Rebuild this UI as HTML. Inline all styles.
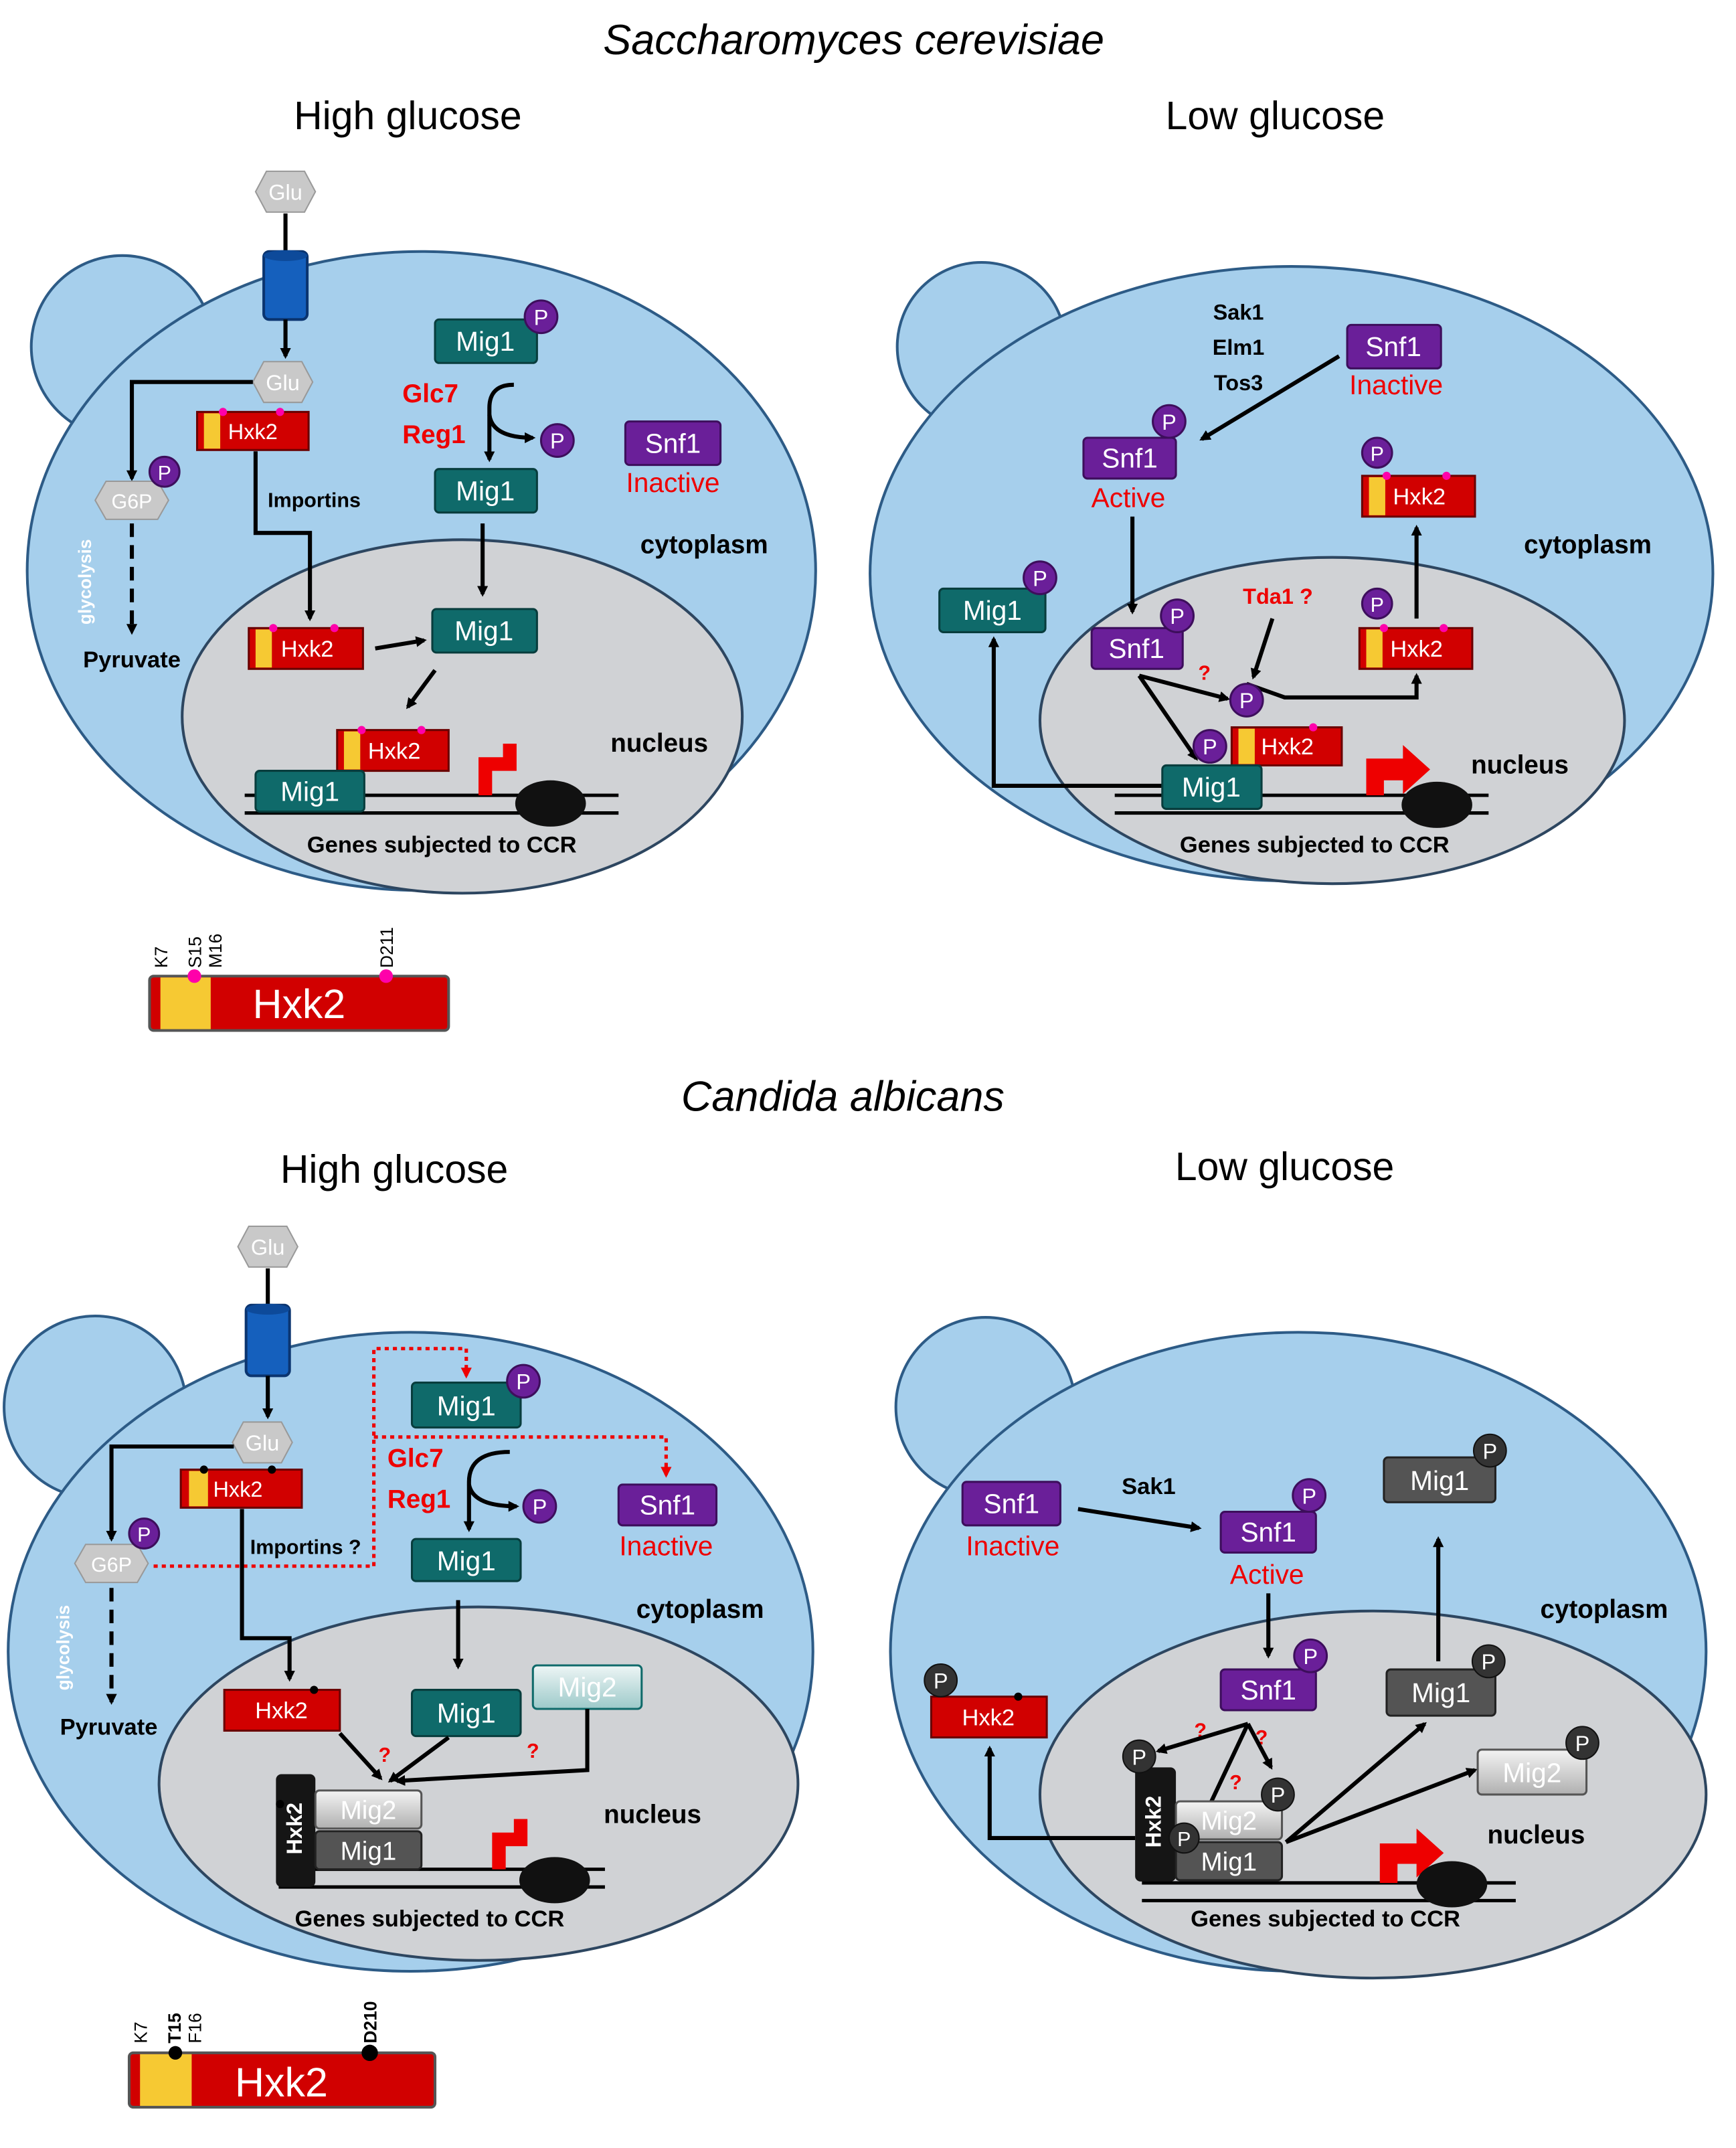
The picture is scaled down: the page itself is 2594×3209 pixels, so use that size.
<!DOCTYPE html>
<html><head><meta charset="utf-8"><style>
html,body{margin:0;padding:0;background:#fff}
svg{display:block}
text{font-family:"Liberation Sans",sans-serif}
.b{font-weight:bold}
</style></head><body>
<svg width="2594" height="3209" viewBox="0 0 1277 1580" preserveAspectRatio="none" xmlns="http://www.w3.org/2000/svg">
<defs>
<marker id="a" markerWidth="8" markerHeight="8" refX="6" refY="4" orient="auto" markerUnits="userSpaceOnUse" viewBox="0 0 8 8"><path d="M0,0 L8,4 L0,8 z" fill="#000"/></marker>
<marker id="ar" markerWidth="8" markerHeight="8" refX="6" refY="4" orient="auto" markerUnits="userSpaceOnUse" viewBox="0 0 8 8"><path d="M0,0 L8,4 L0,8 z" fill="#e00"/></marker>
<marker id="ab" markerWidth="12" markerHeight="12" refX="8" refY="6" orient="auto" markerUnits="userSpaceOnUse" viewBox="0 0 12 12"><path d="M0,0 L12,6 L0,12 z" fill="#000"/></marker>
<linearGradient id="m2" x1="0" y1="0" x2="0" y2="1"><stop offset="0" stop-color="#eef6f6"/><stop offset="1" stop-color="#9cc9c9"/></linearGradient>
<linearGradient id="m2g" x1="0" y1="0" x2="0" y2="1"><stop offset="0" stop-color="#f4f4f4"/><stop offset="1" stop-color="#b0b0b0"/></linearGradient>
</defs>
<style>
.cell{fill:#a6cfec;stroke:#2d5b86;stroke-width:2}
.nuc{fill:#d0d2d5;stroke:#2d4660;stroke-width:2}
.mig{fill:#0f6a6a;stroke:#083d3d;stroke-width:1.5}
.snf{fill:#6a1f99;stroke:#3d0e5c;stroke-width:1.5}
.red{fill:#d10000;stroke:#6a0000;stroke-width:1.5}
.gry{fill:#545454;stroke:#222;stroke-width:1.5}
.w{fill:#fff}
.ln{stroke:#000;stroke-width:3;fill:none}
.rl{stroke:#e00;stroke-width:2.5;fill:none;stroke-dasharray:3,3}
.hex{fill:#c9c9c9;stroke:#999;stroke-width:1}
</style>

<!-- titles -->
<text x="628" y="40" font-size="31" font-style="italic" text-anchor="middle">Saccharomyces cerevisiae</text>
<text x="300" y="95" font-size="29" text-anchor="middle">High glucose</text>
<text x="938" y="95" font-size="29" text-anchor="middle">Low glucose</text>
<text x="620" y="817" font-size="31" font-style="italic" text-anchor="middle">Candida albicans</text>
<text x="290" y="870" font-size="29" text-anchor="middle">High glucose</text>
<text x="945" y="868" font-size="29" text-anchor="middle">Low glucose</text>

<!-- ========== CELL 1 ========== -->
<circle cx="90" cy="255" r="67" class="cell"/>
<ellipse cx="310" cy="420" rx="290" ry="235" class="cell"/>
<ellipse cx="340" cy="527" rx="206" ry="130" class="nuc"/>
<polygon points="188,141 196,126 224,126 232,141 224,156 196,156" class="hex"/><text x="210" y="147" font-size="16" fill="#fff" text-anchor="middle">Glu</text>
<line x1="210" y1="157" x2="210" y2="185" class="ln"/>
<rect x="194" y="185" width="32" height="50" rx="4" fill="#1560bd" stroke="#0b3570" stroke-width="2"/><ellipse cx="210" cy="188" rx="16" ry="4" fill="#0d4a9a"/>
<line x1="210" y1="235" x2="210" y2="262" class="ln" marker-end="url(#a)"/>
<polygon points="186,281 194,266 222,266 230,281 222,296 194,296" class="hex"/><text x="208" y="287" font-size="16" fill="#fff" text-anchor="middle">Glu</text>
<polyline points="186,281 97,281 97,352" class="ln" marker-end="url(#a)"/>
<rect x="145" y="303" width="82" height="28" class="red"/><rect x="150" y="304" width="12" height="26" fill="#f6c933"/><text x="186" y="323" font-size="16" class="w" text-anchor="middle">Hxk2</text><circle cx="164" cy="303" r="3" fill="#f0a"/><circle cx="206" cy="303" r="3" fill="#f0a"/>
<polygon points="70,368 78,354 116,354 124,368 116,382 78,382" class="hex"/><text x="97" y="374" font-size="15" fill="#fff" text-anchor="middle">G6P</text>
<circle cx="121" cy="347" r="11" class="snf"/><text x="121" y="353" font-size="15" class="w" text-anchor="middle">P</text>
<text x="67" y="428" font-size="13" class="w b" text-anchor="middle" transform="rotate(-90 67 428)">glycolysis</text>
<line x1="97" y1="385" x2="97" y2="465" class="ln" stroke-dasharray="10,6" marker-end="url(#a)"/>
<text x="97" y="491" font-size="17" class="b" text-anchor="middle">Pyruvate</text>
<polyline points="188,332 188,392 228,392 228,455" class="ln" marker-end="url(#a)"/>
<text x="197" y="373" font-size="15" class="b">Importins</text>
<rect x="320" y="235" width="75" height="32" rx="3" class="mig"/><text x="357" y="258" font-size="20" class="w" text-anchor="middle">Mig1</text>
<circle cx="398" cy="233" r="12" class="snf"/><text x="398" y="239" font-size="16" class="w" text-anchor="middle">P</text>
<text x="296" y="296" font-size="19" fill="#e00" class="b">Glc7</text>
<text x="296" y="326" font-size="19" fill="#e00" class="b">Reg1</text>
<path d="M378,283 Q360,283 360,300 L360,338" class="ln" marker-end="url(#a)"/>
<path d="M360,305 Q362,322 392,322" class="ln" stroke="#0a2050" marker-end="url(#a)"/>
<circle cx="410" cy="324" r="12" class="snf"/><text x="410" y="330" font-size="16" class="w" text-anchor="middle">P</text>
<rect x="320" y="345" width="75" height="32" rx="3" class="mig"/><text x="357" y="368" font-size="20" class="w" text-anchor="middle">Mig1</text>
<rect x="460" y="310" width="70" height="32" rx="3" class="snf"/><text x="495" y="333" font-size="20" class="w" text-anchor="middle">Snf1</text>
<text x="495" y="362" font-size="20" fill="#e00" text-anchor="middle">Inactive</text>
<text x="518" y="407" font-size="19" class="b" text-anchor="middle">cytoplasm</text>
<line x1="355" y1="385" x2="355" y2="437" class="ln" marker-end="url(#a)"/>
<rect x="183" y="462" width="84" height="30" class="red"/><rect x="188" y="463" width="12" height="28" fill="#f6c933"/><text x="226" y="483" font-size="17" class="w" text-anchor="middle">Hxk2</text><circle cx="201" cy="462" r="3" fill="#f0a"/><circle cx="246" cy="462" r="3" fill="#f0a"/>
<line x1="276" y1="477" x2="312" y2="471" class="ln" marker-end="url(#a)"/>
<rect x="318" y="448" width="77" height="32" rx="3" class="mig"/><text x="356" y="471" font-size="20" class="w" text-anchor="middle">Mig1</text>
<line x1="320" y1="493" x2="300" y2="520" class="ln" marker-end="url(#a)"/>
<line x1="180" y1="585" x2="455" y2="585" stroke="#000" stroke-width="2.5"/><line x1="180" y1="598" x2="455" y2="598" stroke="#000" stroke-width="2.5"/>
<rect x="248" y="537" width="82" height="30" class="red"/><rect x="253" y="538" width="12" height="28" fill="#f6c933"/><text x="290" y="558" font-size="17" class="w" text-anchor="middle">Hxk2</text><circle cx="266" cy="537" r="3" fill="#f0a"/><circle cx="310" cy="537" r="3" fill="#f0a"/>
<rect x="188" y="567" width="80" height="30" rx="3" class="mig"/><text x="228" y="589" font-size="20" class="w" text-anchor="middle">Mig1</text>
<path d="M352,585 L352,557 L370,557 L370,547 L380,547 L380,567 L362,567 L362,585 z" fill="#e00"/>
<ellipse cx="405" cy="591" rx="26" ry="17" fill="#111"/>
<text x="485" y="553" font-size="19" class="b" text-anchor="middle">nucleus</text>
<text x="325" y="627" font-size="17" class="b" text-anchor="middle">Genes subjected to CCR</text>

<!-- Hxk2 bar 1 -->
<rect x="110" y="718" width="220" height="40" rx="3" fill="#d10000" stroke="#555" stroke-width="2"/>
<rect x="118" y="719" width="37" height="38" fill="#f6c933"/>
<circle cx="143" cy="718" r="5" fill="#f0a"/><circle cx="284" cy="718" r="5" fill="#f0a"/>
<text x="220" y="749" font-size="30" class="w" text-anchor="middle">Hxk2</text>
<text x="123" y="712" font-size="13" transform="rotate(-90 123 712)">K7</text>
<text x="148" y="712" font-size="13" transform="rotate(-90 148 712)">S15</text>
<text x="163" y="712" font-size="13" transform="rotate(-90 163 712)">M16</text>
<text x="289" y="712" font-size="13" transform="rotate(-90 289 712)">D211</text>

<!-- ========== CELL 2 ========== -->
<circle cx="722" cy="255" r="62" class="cell"/>
<ellipse cx="950" cy="422" rx="310" ry="226" class="cell"/>
<ellipse cx="980" cy="530" rx="215" ry="120" class="nuc"/>
<text x="911" y="235" font-size="16" class="b" text-anchor="middle">Sak1</text>
<text x="911" y="261" font-size="16" class="b" text-anchor="middle">Elm1</text>
<text x="911" y="287" font-size="16" class="b" text-anchor="middle">Tos3</text>
<rect x="991" y="239" width="69" height="32" rx="3" class="snf"/><text x="1025" y="262" font-size="20" class="w" text-anchor="middle">Snf1</text>
<text x="1027" y="290" font-size="20" fill="#e00" text-anchor="middle">Inactive</text>
<line x1="985" y1="262" x2="884" y2="323" class="ln" marker-end="url(#a)"/>
<rect x="797" y="322" width="68" height="30" rx="3" class="snf"/><text x="831" y="344" font-size="20" class="w" text-anchor="middle">Snf1</text>
<circle cx="860" cy="310" r="12" class="snf"/><text x="860" y="316" font-size="16" class="w" text-anchor="middle">P</text>
<text x="830" y="373" font-size="20" fill="#e00" text-anchor="middle">Active</text>
<line x1="833" y1="380" x2="833" y2="450" class="ln" marker-end="url(#a)"/>
<rect x="803" y="462" width="67" height="30" rx="3" class="snf"/><text x="836" y="484" font-size="20" class="w" text-anchor="middle">Snf1</text>
<circle cx="866" cy="453" r="12" class="snf"/><text x="866" y="459" font-size="16" class="w" text-anchor="middle">P</text>
<rect x="691" y="433" width="78" height="32" rx="3" class="mig"/><text x="730" y="456" font-size="20" class="w" text-anchor="middle">Mig1</text>
<circle cx="765" cy="425" r="12" class="snf"/><text x="765" y="431" font-size="16" class="w" text-anchor="middle">P</text>
<polyline points="858,578 731,578 731,470" class="ln" marker-end="url(#a)"/>
<text x="940" y="444" font-size="16" fill="#e00" class="b" text-anchor="middle">Tda1 ?</text>
<line x1="936" y1="455" x2="922" y2="498" class="ln" marker-end="url(#a)"/>
<text x="886" y="500" font-size="15" fill="#e00" class="b" text-anchor="middle">?</text>
<line x1="838" y1="497" x2="903" y2="514" class="ln" marker-end="url(#a)"/>
<line x1="838" y1="497" x2="880" y2="558" class="ln" marker-end="url(#a)"/>
<polyline points="917,503 945,513 1042,513 1042,497" class="ln" marker-end="url(#a)"/>
<line x1="820" y1="585" x2="1095" y2="585" stroke="#000" stroke-width="2.5"/><line x1="820" y1="598" x2="1095" y2="598" stroke="#000" stroke-width="2.5"/>
<rect x="906" y="535" width="81" height="28" class="red"/><rect x="911" y="536" width="12" height="26" fill="#f6c933"/><text x="947" y="555" font-size="17" class="w" text-anchor="middle">Hxk2</text><circle cx="966" cy="535" r="3" fill="#f0a"/>
<circle cx="917" cy="515" r="12" class="snf"/><text x="917" y="521" font-size="16" class="w" text-anchor="middle">P</text>
<circle cx="890" cy="549" r="12" class="snf"/><text x="890" y="555" font-size="16" class="w" text-anchor="middle">P</text>
<rect x="855" y="563" width="73" height="32" rx="3" class="mig"/><text x="891" y="586" font-size="20" class="w" text-anchor="middle">Mig1</text>
<rect x="1000" y="462" width="83" height="30" class="red"/><rect x="1005" y="463" width="12" height="28" fill="#f6c933"/><text x="1042" y="483" font-size="17" class="w" text-anchor="middle">Hxk2</text><circle cx="1018" cy="462" r="3" fill="#f0a"/><circle cx="1062" cy="462" r="3" fill="#f0a"/>
<circle cx="1013" cy="444" r="11" class="snf"/><text x="1013" y="450" font-size="15" class="w" text-anchor="middle">P</text>
<line x1="1042" y1="455" x2="1042" y2="388" class="ln" marker-end="url(#a)"/>
<rect x="1002" y="350" width="83" height="30" class="red"/><rect x="1007" y="351" width="12" height="28" fill="#f6c933"/><text x="1044" y="371" font-size="17" class="w" text-anchor="middle">Hxk2</text><circle cx="1020" cy="350" r="3" fill="#f0a"/><circle cx="1064" cy="350" r="3" fill="#f0a"/>
<circle cx="1013" cy="333" r="11" class="snf"/><text x="1013" y="339" font-size="15" class="w" text-anchor="middle">P</text>
<path d="M1005,585 L1005,558 L1032,558 L1032,548 L1052,566 L1032,584 L1032,574 L1018,574 L1018,585 z" fill="#e00"/>
<ellipse cx="1057" cy="592" rx="26" ry="17" fill="#111"/>
<text x="1168" y="407" font-size="19" class="b" text-anchor="middle">cytoplasm</text>
<text x="1118" y="569" font-size="19" class="b" text-anchor="middle">nucleus</text>
<text x="967" y="627" font-size="17" class="b" text-anchor="middle">Genes subjected to CCR</text>

<!-- ========== CELL 3 ========== -->
<circle cx="70" cy="1035" r="67" class="cell"/>
<ellipse cx="302" cy="1215" rx="296" ry="235" class="cell"/>
<ellipse cx="352" cy="1312" rx="235" ry="130" class="nuc"/>
<polygon points="175,917 183,902 211,902 219,917 211,932 183,932" class="hex"/><text x="197" y="923" font-size="16" fill="#fff" text-anchor="middle">Glu</text>
<line x1="197" y1="933" x2="197" y2="960" class="ln"/>
<rect x="181" y="960" width="32" height="52" rx="4" fill="#1560bd" stroke="#0b3570" stroke-width="2"/><ellipse cx="197" cy="963" rx="16" ry="4" fill="#0d4a9a"/>
<line x1="197" y1="1012" x2="197" y2="1042" class="ln" marker-end="url(#a)"/>
<polygon points="171,1061 179,1046 207,1046 215,1061 207,1076 179,1076" class="hex"/><text x="193" y="1067" font-size="16" fill="#fff" text-anchor="middle">Glu</text>
<polyline points="172,1064 82,1064 82,1132" class="ln" marker-end="url(#a)"/>
<rect x="133" y="1081" width="89" height="28" class="red"/><rect x="139" y="1082" width="14" height="26" fill="#f6c933"/><text x="175" y="1101" font-size="16" class="w" text-anchor="middle">Hxk2</text><circle cx="150" cy="1081" r="3" fill="#000"/><circle cx="200" cy="1081" r="3" fill="#000"/>
<polygon points="55,1150 63,1136 101,1136 109,1150 101,1164 63,1164" class="hex"/><text x="82" y="1156" font-size="15" fill="#fff" text-anchor="middle">G6P</text>
<circle cx="106" cy="1128" r="11" class="snf"/><text x="106" y="1134" font-size="15" class="w" text-anchor="middle">P</text>
<text x="51" y="1212" font-size="13" class="w b" text-anchor="middle" transform="rotate(-90 51 1212)">glycolysis</text>
<line x1="82" y1="1168" x2="82" y2="1252" class="ln" stroke-dasharray="10,6" marker-end="url(#a)"/>
<text x="80" y="1276" font-size="17" class="b" text-anchor="middle">Pyruvate</text>
<polyline points="113,1152 275,1152 275,992 343,992 343,1012" class="rl" marker-end="url(#ar)"/>
<polyline points="275,1057 490,1057 490,1085" class="rl" marker-end="url(#ar)"/>
<text x="184" y="1143" font-size="15" class="b">Importins ?</text>
<polyline points="178,1110 178,1205 213,1205 213,1235" class="ln" marker-end="url(#a)"/>
<rect x="303" y="1017" width="80" height="33" rx="3" class="mig"/><text x="343" y="1041" font-size="20" class="w" text-anchor="middle">Mig1</text>
<circle cx="385" cy="1016" r="12" class="snf"/><text x="385" y="1022" font-size="16" class="w" text-anchor="middle">P</text>
<text x="285" y="1079" font-size="19" fill="#e00" class="b">Glc7</text>
<text x="285" y="1109" font-size="19" fill="#e00" class="b">Reg1</text>
<path d="M375,1068 Q345,1068 345,1090 L345,1125" class="ln" marker-end="url(#a)"/>
<path d="M345,1092 Q348,1108 380,1108" class="ln" stroke="#0a2050" marker-end="url(#a)"/>
<circle cx="397" cy="1108" r="12" class="snf"/><text x="397" y="1114" font-size="16" class="w" text-anchor="middle">P</text>
<rect x="303" y="1132" width="80" height="31" rx="3" class="mig"/><text x="343" y="1155" font-size="20" class="w" text-anchor="middle">Mig1</text>
<rect x="455" y="1092" width="72" height="30" rx="3" class="snf"/><text x="491" y="1114" font-size="20" class="w" text-anchor="middle">Snf1</text>
<text x="490" y="1144" font-size="20" fill="#e00" text-anchor="middle">Inactive</text>
<text x="515" y="1190" font-size="19" class="b" text-anchor="middle">cytoplasm</text>
<line x1="337" y1="1177" x2="337" y2="1226" class="ln" marker-end="url(#a)"/>
<rect x="165" y="1243" width="85" height="30" class="red"/><text x="207" y="1264" font-size="17" class="w" text-anchor="middle">Hxk2</text><circle cx="231" cy="1243" r="3" fill="#000"/>
<rect x="303" y="1243" width="80" height="34" rx="3" class="mig"/><text x="343" y="1267" font-size="20" class="w" text-anchor="middle">Mig1</text>
<rect x="392" y="1225" width="80" height="32" rx="3" fill="url(#m2)" stroke="#0f6a6a" stroke-width="1.5"/><text x="432" y="1248" font-size="20" class="w" text-anchor="middle">Mig2</text>
<line x1="250" y1="1275" x2="280" y2="1308" class="ln" marker-end="url(#a)"/>
<line x1="330" y1="1278" x2="287" y2="1310" class="ln" marker-end="url(#a)"/>
<polyline points="432,1257 432,1302 292,1310" class="ln" marker-end="url(#a)"/>
<text x="283" y="1296" font-size="15" fill="#e00" class="b" text-anchor="middle">?</text>
<text x="392" y="1293" font-size="15" fill="#e00" class="b" text-anchor="middle">?</text>
<line x1="205" y1="1375" x2="445" y2="1375" stroke="#000" stroke-width="2.5"/><line x1="205" y1="1388" x2="445" y2="1388" stroke="#000" stroke-width="2.5"/>
<rect x="203" y="1305" width="29" height="83" rx="4" fill="#151515"/><text x="224" y="1347" font-size="16" class="w b" text-anchor="middle" transform="rotate(-90 222 1347)">Hxk2</text><circle cx="206" cy="1327" r="3" fill="#000"/>
<rect x="232" y="1317" width="78" height="28" rx="3" fill="url(#m2g)" stroke="#555" stroke-width="1.5"/><text x="271" y="1338" font-size="19" class="w" text-anchor="middle">Mig2</text>
<rect x="232" y="1347" width="78" height="28" rx="3" class="gry"/><text x="271" y="1368" font-size="19" class="w" text-anchor="middle">Mig1</text>
<path d="M362,1375 L362,1348 L378,1348 L378,1338 L388,1338 L388,1358 L372,1358 L372,1375 z" fill="#e00"/>
<ellipse cx="408" cy="1383" rx="26" ry="17" fill="#111"/>
<text x="480" y="1341" font-size="19" class="b" text-anchor="middle">nucleus</text>
<text x="316" y="1417" font-size="17" class="b" text-anchor="middle">Genes subjected to CCR</text>

<!-- Hxk2 bar 2 -->
<rect x="95" y="1510" width="225" height="40" rx="3" fill="#d10000" stroke="#555" stroke-width="2"/>
<rect x="103" y="1511" width="38" height="38" fill="#f6c933"/>
<circle cx="129" cy="1510" r="5" fill="#000"/><circle cx="272" cy="1510" r="6" fill="#000"/>
<text x="207" y="1542" font-size="30" class="w" text-anchor="middle">Hxk2</text>
<text x="108" y="1503" font-size="13" transform="rotate(-90 108 1503)">K7</text>
<text x="133" y="1503" font-size="13" class="b" transform="rotate(-90 133 1503)">T15</text>
<text x="148" y="1503" font-size="13" transform="rotate(-90 148 1503)">F16</text>
<text x="277" y="1503" font-size="13" class="b" transform="rotate(-90 277 1503)">D210</text>

<!-- ========== CELL 4 ========== -->
<circle cx="725" cy="1035" r="66" class="cell"/>
<ellipse cx="955" cy="1215" rx="300" ry="235" class="cell"/>
<ellipse cx="1010" cy="1320" rx="245" ry="135" class="nuc"/>
<rect x="708" y="1090" width="72" height="32" rx="3" class="snf"/><text x="744" y="1113" font-size="20" class="w" text-anchor="middle">Snf1</text>
<text x="745" y="1144" font-size="20" fill="#e00" text-anchor="middle">Inactive</text>
<text x="845" y="1099" font-size="17" class="b" text-anchor="middle">Sak1</text>
<line x1="793" y1="1110" x2="882" y2="1124" class="ln" marker-end="url(#a)"/>
<rect x="898" y="1112" width="70" height="30" rx="3" class="snf"/><text x="933" y="1134" font-size="20" class="w" text-anchor="middle">Snf1</text>
<circle cx="963" cy="1100" r="12" class="snf"/><text x="963" y="1106" font-size="16" class="w" text-anchor="middle">P</text>
<text x="932" y="1165" font-size="20" fill="#e00" text-anchor="middle">Active</text>
<line x1="933" y1="1172" x2="933" y2="1218" class="ln" marker-end="url(#a)"/>
<rect x="898" y="1228" width="70" height="30" rx="3" class="snf"/><text x="933" y="1250" font-size="20" class="w" text-anchor="middle">Snf1</text>
<circle cx="964" cy="1218" r="12" class="snf"/><text x="964" y="1224" font-size="16" class="w" text-anchor="middle">P</text>
<text x="883" y="1278" font-size="15" fill="#e00" class="b" text-anchor="middle">?</text>
<text x="928" y="1283" font-size="15" fill="#e00" class="b" text-anchor="middle">?</text>
<text x="909" y="1316" font-size="15" fill="#e00" class="b" text-anchor="middle">?</text>
<line x1="918" y1="1268" x2="852" y2="1288" class="ln" marker-end="url(#a)"/>
<line x1="918" y1="1268" x2="935" y2="1300" class="ln" marker-end="url(#a)"/>
<line x1="918" y1="1268" x2="885" y2="1338" class="ln" marker-end="url(#a)"/>
<line x1="840" y1="1385" x2="1115" y2="1385" stroke="#000" stroke-width="2.5"/><line x1="840" y1="1398" x2="1115" y2="1398" stroke="#000" stroke-width="2.5"/>
<rect x="835" y="1300" width="30" height="84" rx="4" fill="#151515"/><text x="856" y="1342" font-size="16" class="w b" text-anchor="middle" transform="rotate(-90 854 1342)">Hxk2</text>
<circle cx="838" cy="1292" r="12" fill="#333" stroke="#111"/><text x="838" y="1298" font-size="16" class="w" text-anchor="middle">P</text>
<rect x="865" y="1325" width="78" height="28" rx="3" fill="url(#m2g)" stroke="#555" stroke-width="1.5"/><text x="904" y="1346" font-size="19" class="w" text-anchor="middle">Mig2</text>
<circle cx="940" cy="1320" r="12" fill="#333" stroke="#111"/><text x="940" y="1326" font-size="16" class="w" text-anchor="middle">P</text>
<rect x="865" y="1355" width="78" height="28" rx="3" class="gry"/><text x="904" y="1376" font-size="19" class="w" text-anchor="middle">Mig1</text>
<circle cx="871" cy="1352" r="11" fill="#333" stroke="#111"/><text x="871" y="1358" font-size="15" class="w" text-anchor="middle">P</text>
<line x1="946" y1="1355" x2="1048" y2="1268" class="ln" marker-end="url(#a)"/>
<line x1="946" y1="1355" x2="1085" y2="1302" class="ln" marker-end="url(#a)"/>
<rect x="1020" y="1228" width="80" height="34" rx="3" class="gry"/><text x="1060" y="1252" font-size="20" class="w" text-anchor="middle">Mig1</text>
<circle cx="1095" cy="1222" r="12" fill="#333" stroke="#111"/><text x="1095" y="1228" font-size="16" class="w" text-anchor="middle">P</text>
<line x1="1058" y1="1222" x2="1058" y2="1132" class="ln" marker-end="url(#a)"/>
<rect x="1018" y="1072" width="82" height="33" rx="3" class="gry"/><text x="1059" y="1096" font-size="20" class="w" text-anchor="middle">Mig1</text>
<circle cx="1096" cy="1067" r="12" fill="#333" stroke="#111"/><text x="1096" y="1073" font-size="16" class="w" text-anchor="middle">P</text>
<rect x="1087" y="1287" width="80" height="33" rx="3" fill="url(#m2g)" stroke="#555" stroke-width="1.5"/><text x="1127" y="1311" font-size="20" class="w" text-anchor="middle">Mig2</text>
<circle cx="1164" cy="1282" r="12" fill="#333" stroke="#111"/><text x="1164" y="1288" font-size="16" class="w" text-anchor="middle">P</text>
<rect x="685" y="1248" width="85" height="30" class="red"/><text x="727" y="1269" font-size="17" class="w" text-anchor="middle">Hxk2</text><circle cx="749" cy="1248" r="3" fill="#000"/>
<circle cx="692" cy="1236" r="12" fill="#333" stroke="#111"/><text x="692" y="1242" font-size="16" class="w" text-anchor="middle">P</text>
<polyline points="835,1352 728,1352 728,1286" class="ln" marker-end="url(#a)"/>
<path d="M1015,1385 L1015,1356 L1042,1356 L1042,1345 L1062,1363 L1042,1381 L1042,1371 L1028,1371 L1028,1385 z" fill="#e00"/>
<ellipse cx="1068" cy="1386" rx="26" ry="17" fill="#111"/>
<text x="1180" y="1190" font-size="19" class="b" text-anchor="middle">cytoplasm</text>
<text x="1130" y="1356" font-size="19" class="b" text-anchor="middle">nucleus</text>
<text x="975" y="1417" font-size="17" class="b" text-anchor="middle">Genes subjected to CCR</text>
</svg>
</body></html>
